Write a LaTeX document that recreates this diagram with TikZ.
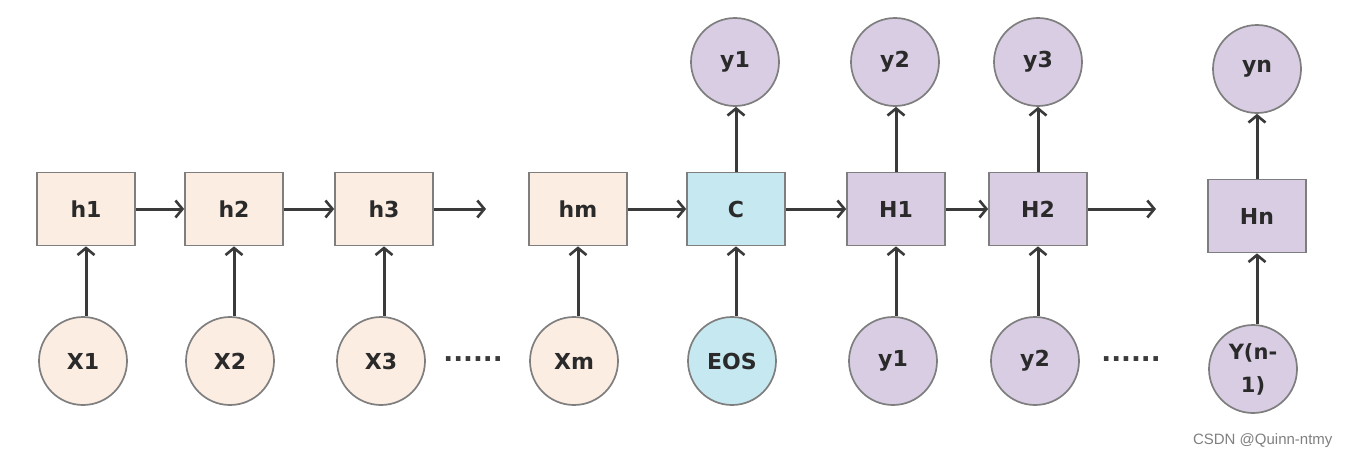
\documentclass[tikz,border=0pt]{standalone}
\usepackage{fontspec}
\setmainfont{DejaVu Sans}
\newfontfamily\wmfont{Liberation Sans}
\usetikzlibrary{arrows.meta}
\definecolor{peach}{HTML}{FCEDE3}
\definecolor{cyanbox}{HTML}{C6E8F0}
\definecolor{lav}{HTML}{D8CDE3}
\definecolor{edge}{HTML}{7E7E7E}
\definecolor{txt}{HTML}{2A2A2A}
\definecolor{wire}{HTML}{3A3A3A}
\tikzset{
  cell/.style={draw=edge, line width=1.7pt, minimum width=98pt, minimum height=73pt, inner sep=0pt, font=\bfseries\fontsize{22}{26}\selectfont, text=txt},
  tok/.style={circle, draw=edge, line width=1.7pt, minimum size=88pt, inner sep=0pt, font=\bfseries\fontsize{22}{26}\selectfont, text=txt, align=center},
  flow/.style={draw=wire, line width=3pt, -{Straight Barb[length=7pt,width=17pt,line width=2.6pt]}},
  dots/.style={font=\bfseries\fontsize{26}{28}\selectfont, text=wire, anchor=base, inner sep=0pt},
}
\begin{document}
\begin{tikzpicture}[x=1pt,y=-1pt]
\useasboundingbox[fill=white] (0,0) rectangle (1350,461);
% encoder cells
\node[cell, fill=peach] (h1) at (86,209) {h1};
\node[cell, fill=peach] (h2) at (234,209) {h2};
\node[cell, fill=peach] (h3) at (384,209) {h3};
\node[cell, fill=peach] (hm) at (578,209) {hm};
\node[cell, fill=cyanbox] (C) at (736,209) {C};
\node[cell, fill=lav] (H1) at (896,209) {H1};
\node[cell, fill=lav] (H2) at (1038,209) {H2};
\node[cell, fill=lav] (Hn) at (1257,216) {Hn};
% inputs
\node[tok, fill=peach] (X1) at (83,361) {X1};
\node[tok, fill=peach] (X2) at (230,361) {X2};
\node[tok, fill=peach] (X3) at (381,361) {X3};
\node[tok, fill=peach] (Xm) at (574,361) {Xm};
\node[tok, fill=cyanbox] (EOS) at (732,361) {EOS};
\node[tok, fill=lav] (yi1) at (893,361) {y1};
\node[tok, fill=lav] (yi2) at (1035,361) {y2};
\node[tok, fill=lav, font=\bfseries\fontsize{21}{33}\selectfont] (yin) at (1253,369) {Y(n-\\1)};
% outputs
\node[tok, fill=lav] (yo1) at (735,62) {y1};
\node[tok, fill=lav] (yo2) at (895,62) {y2};
\node[tok, fill=lav] (yo3) at (1038,62) {y3};
\node[tok, fill=lav] (yon) at (1257,69) {yn};
% dots
\node[dots] (d1) at (473,361) {......};
\node[dots] (d2) at (1131,361) {......};
% free ends
\coordinate (e1) at (486,209);
\coordinate (e2) at (1156,209);
% horizontal flows
\draw[flow] (h1) -- (h2);
\draw[flow] (h2) -- (h3);
\draw[flow] (h3) -- (e1);
\draw[flow] (hm) -- (C);
\draw[flow] (C) -- (H1);
\draw[flow] (H1) -- (H2);
\draw[flow] (H2) -- (e2);
% vertical inputs
\draw[flow] (X1.north -| h1) -- (h1.south);
\draw[flow] (X2.north -| h2) -- (h2.south);
\draw[flow] (X3.north -| h3) -- (h3.south);
\draw[flow] (Xm.north -| hm) -- (hm.south);
\draw[flow] (EOS.north -| C) -- (C.south);
\draw[flow] (yi1.north -| H1) -- (H1.south);
\draw[flow] (yi2.north -| H2) -- (H2.south);
\draw[flow] (yin.north -| Hn) -- (Hn.south);
% vertical outputs
\draw[flow] (C.north) -- (yo1.south -| C);
\draw[flow] (H1.north) -- (yo2.south -| H1);
\draw[flow] (H2.north) -- (yo3.south -| H2);
\draw[flow] (Hn.north) -- (yon.south -| Hn);
% watermark
\node[anchor=east, font=\wmfont\fontsize{15}{17}\selectfont, text=black!50] (wm) at (1336,441) {CSDN @Quinn-ntmy};
\end{tikzpicture}
\end{document}
